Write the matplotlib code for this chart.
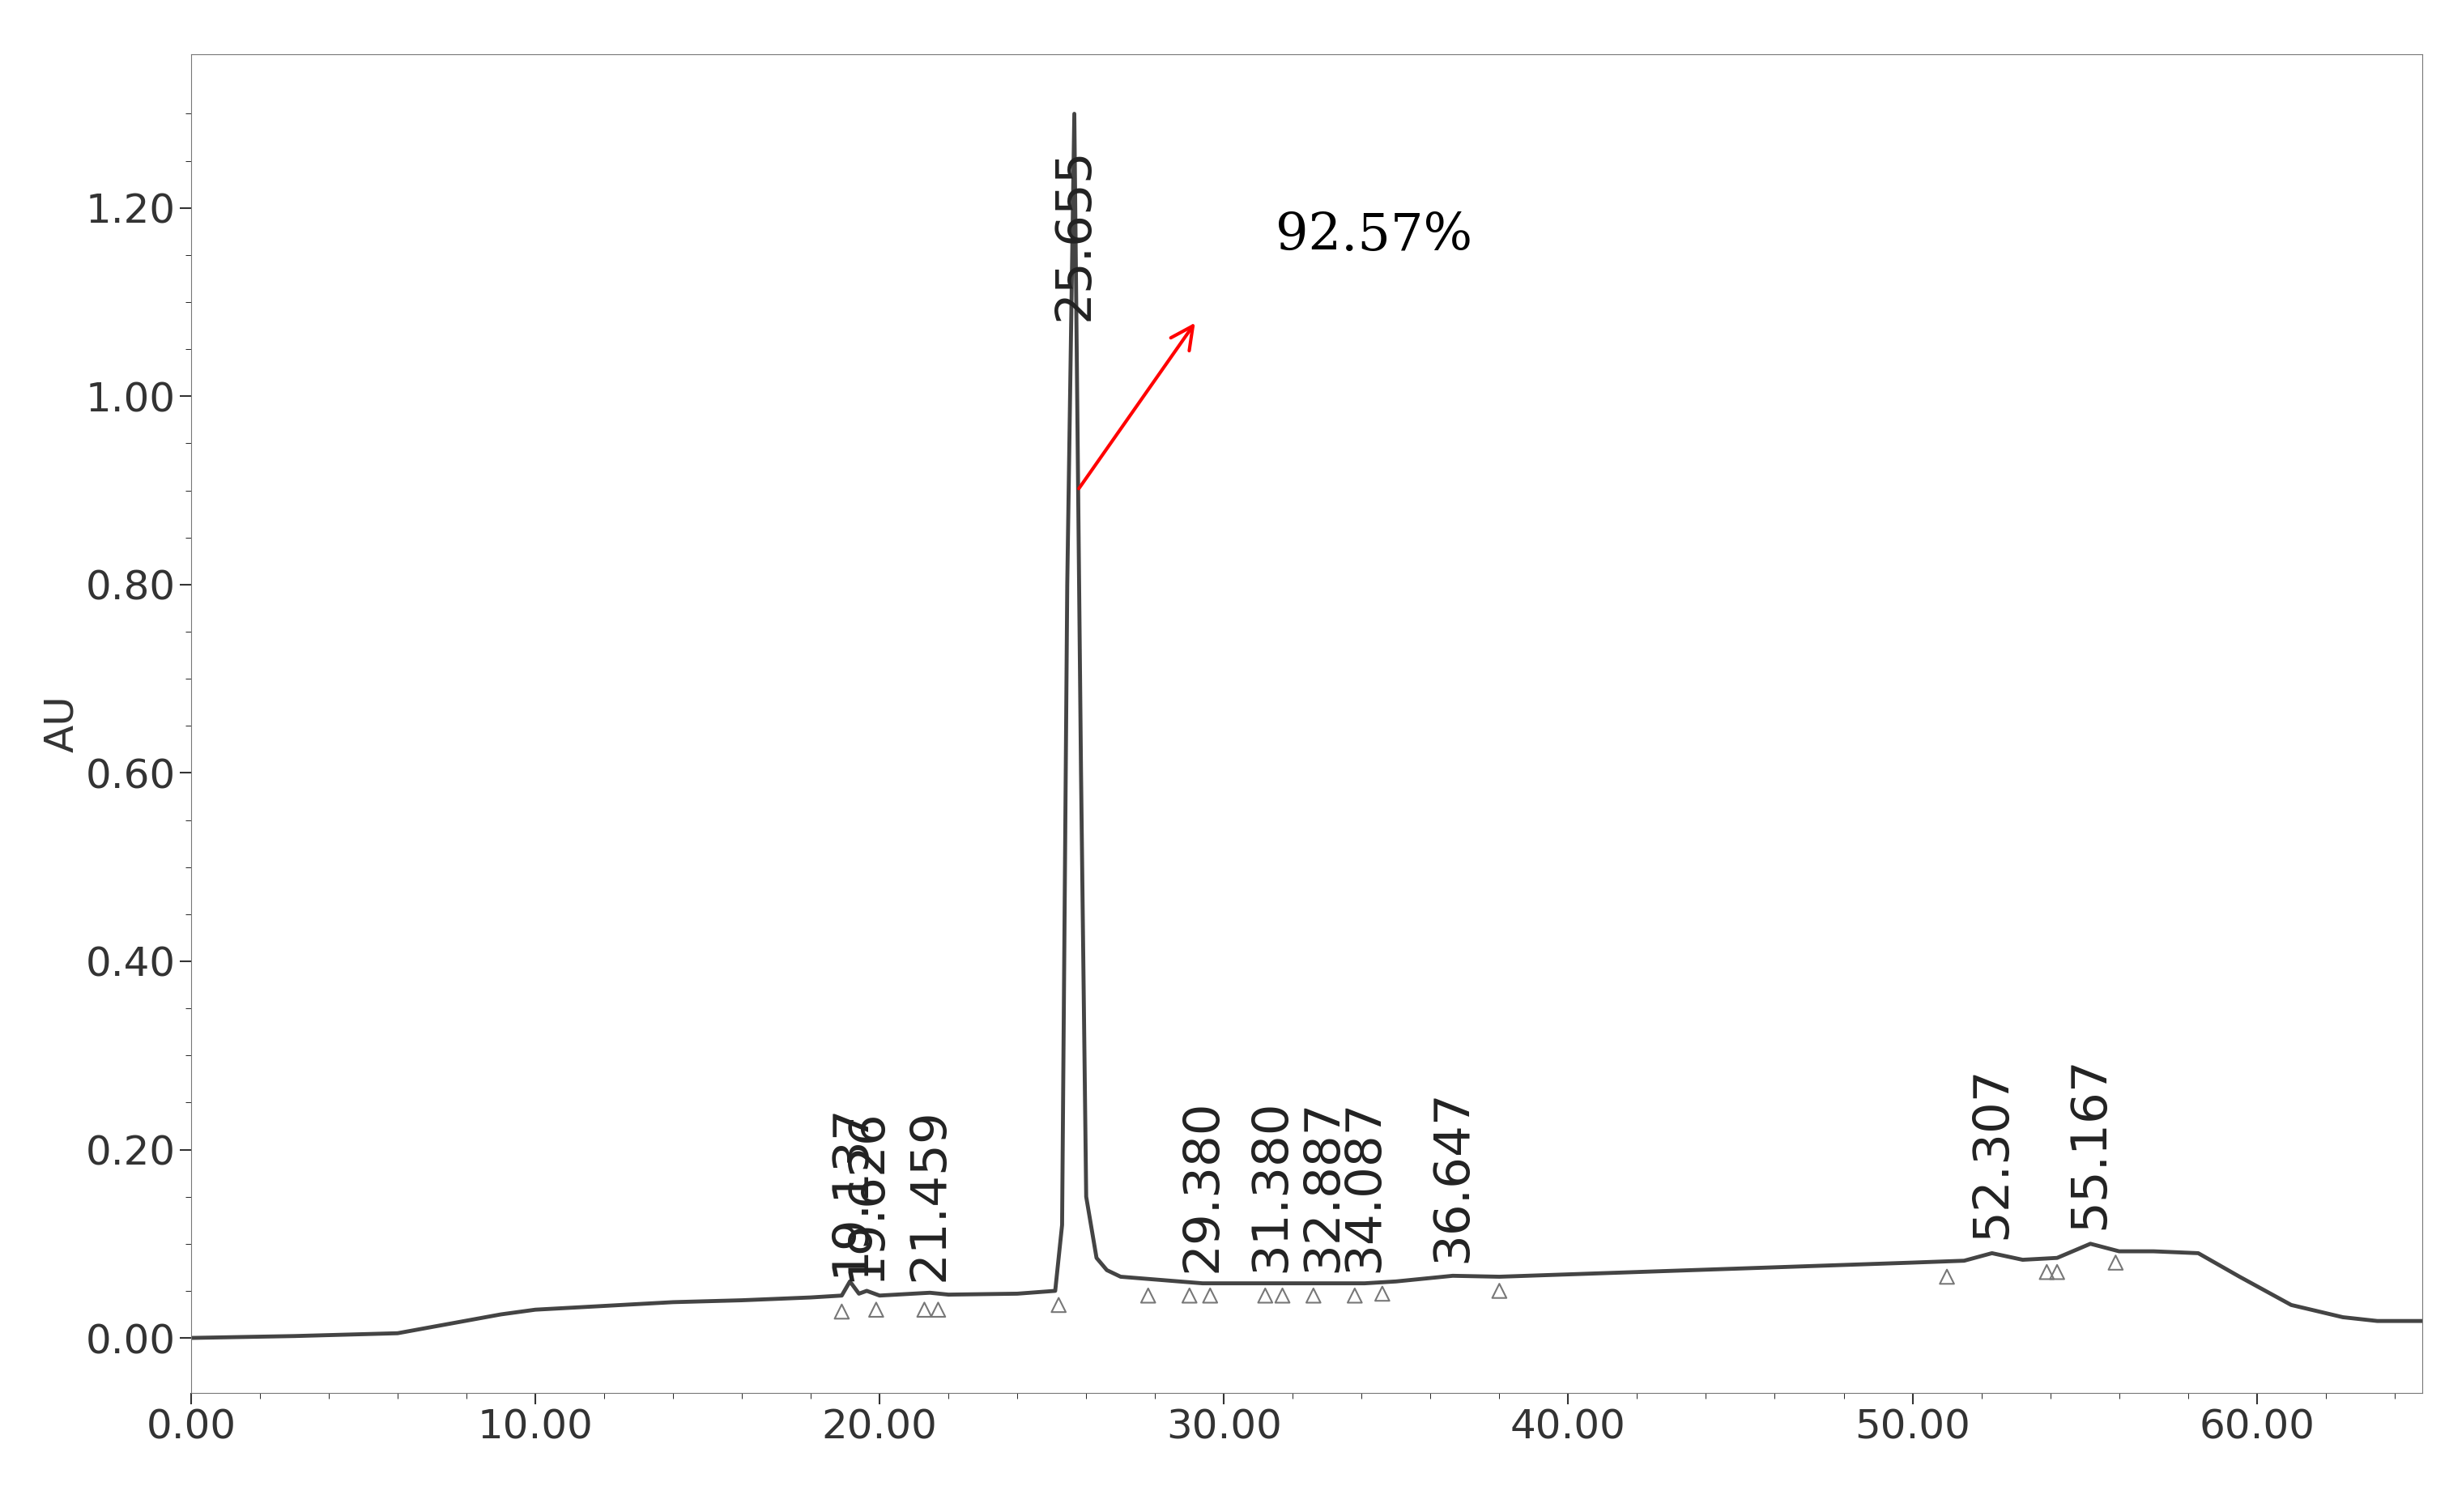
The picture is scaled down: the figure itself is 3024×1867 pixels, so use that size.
import numpy as np
import matplotlib
matplotlib.use('Agg')
from matplotlib import pyplot as plt

# chromatogram trace (min, AU)
time = [0, 3, 6, 7.5, 9, 10, 12, 14, 16, 18, 18.9, 19.137, 19.4, 19.626, 20, 21.459, 22, 24, 25.1, 25.3,
        25.45, 25.655, 25.85, 26.0, 26.3, 26.6, 27, 29.38, 31.38, 32.887, 34.087, 35, 36.647, 38, 42, 46, 50,
        51.5, 52.307, 53.2, 54.2, 55.167, 56, 57, 58.3, 59.5, 61, 62.5, 63.5, 65]
au = [0.0, 0.002, 0.005, 0.015, 0.025, 0.03, 0.034, 0.038, 0.040, 0.043, 0.045, 0.06, 0.047, 0.05, 0.045,
      0.048, 0.046, 0.047, 0.05, 0.12, 0.8, 1.30, 0.6, 0.15, 0.085, 0.072, 0.065, 0.058, 0.058, 0.058, 0.058,
      0.06, 0.066, 0.065, 0.07, 0.075, 0.08, 0.082, 0.09, 0.083, 0.085, 0.1, 0.092, 0.092, 0.09, 0.065,
      0.035, 0.022, 0.018, 0.018]

peak_labels = ['19.137', '19.626', '21.459', '25.655', '29.380', '31.380', '32.887', '34.087',
               '36.647', '52.307', '55.167']
label_y = [0.055, 0.05, 0.05, 1.07, 0.06, 0.06, 0.06, 0.06, 0.07, 0.095, 0.105]

marker_x = [18.9, 19.9, 21.3, 21.7, 25.2, 27.8, 29.0, 29.6, 31.2, 31.7, 32.6, 33.8, 34.6, 38.0,
            51.0, 53.9, 54.2, 55.9]
marker_y = [0.028, 0.03, 0.03, 0.03, 0.035, 0.045, 0.045, 0.045, 0.045, 0.045, 0.045, 0.045, 0.047,
            0.05, 0.065, 0.07, 0.07, 0.08]

fig = plt.figure(figsize=(30.24, 18.67), dpi=100)
ax = fig.add_axes([0.078, 0.079, 0.911, 0.885])
ax.plot(time, au, color='#444444', lw=3.5)
ax.scatter(marker_x, marker_y, marker='^', s=160, facecolors='none', edgecolors='#777777', lw=1.5)

for lab, y in zip(peak_labels, label_y):
    ax.text(float(lab), y + 0.01, lab, rotation=90, ha='center', va='bottom', fontsize=44, color='#222222')

ax.annotate('', xy=(29.2, 1.08), xytext=(25.75, 0.9),
            arrowprops=dict(arrowstyle='->', color='red', lw=3, mutation_scale=50))
ax.text(31.5, 1.17, '92.57%', fontsize=46, family='DejaVu Serif', va='center')

ax.set_xlim(0, 64.8)
ax.set_ylim(-0.058, 1.363)
ax.set_xticks(np.arange(0, 61, 10))
ax.set_xticklabels(['%.2f' % v for v in np.arange(0, 61, 10)])
ax.set_xticks(np.arange(0, 65, 2), minor=True)
ax.set_yticks(np.arange(0, 1.21, 0.2))
ax.set_yticklabels(['%.2f' % v for v in np.arange(0, 1.21, 0.2)])
ax.set_yticks(np.arange(0, 1.35, 0.05), minor=True)
ax.tick_params(labelsize=36, length=10, width=1.5, colors='#333333')
ax.tick_params(which='minor', length=5)
ax.set_ylabel('AU', fontsize=36, color='#333333')
for s in ax.spines.values():
    s.set_color('#777777')

fig.savefig('out.png', dpi=100)
